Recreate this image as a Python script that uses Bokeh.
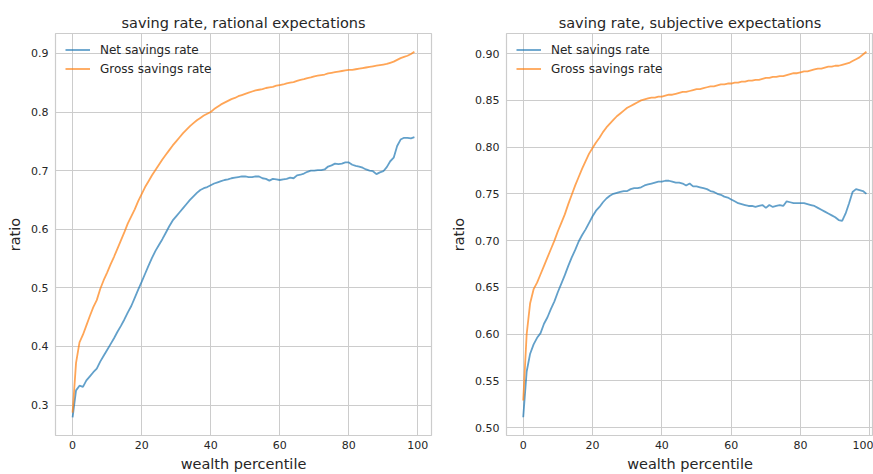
from bokeh.plotting import figure
from bokeh.layouts import row
from bokeh.models import FixedTicker, NumeralTickFormatter, Range1d, Legend, LegendItem
from bokeh.embed import file_html
from bokeh.resources import INLINE

percentile = list(range(100))

net_rational = [
    0.279, 0.325, 0.333, 0.331, 0.342, 0.349, 0.356, 0.362, 0.374, 0.384,
    0.394, 0.404, 0.414, 0.425, 0.435, 0.446, 0.458, 0.469, 0.483, 0.497,
    0.510, 0.524, 0.538, 0.551, 0.563, 0.573, 0.583, 0.594, 0.605, 0.615,
    0.622, 0.629, 0.636, 0.643, 0.650, 0.656, 0.662, 0.667, 0.670, 0.672,
    0.675, 0.678, 0.680, 0.682, 0.684, 0.685, 0.687, 0.688, 0.689, 0.690,
    0.690, 0.689, 0.689, 0.690, 0.690, 0.687, 0.686, 0.683, 0.686, 0.685,
    0.684, 0.685, 0.686, 0.688, 0.687, 0.692, 0.693, 0.695, 0.698, 0.700,
    0.700, 0.701, 0.701, 0.702, 0.707, 0.709, 0.712, 0.711, 0.712, 0.714,
    0.714, 0.710, 0.708, 0.707, 0.705, 0.702, 0.700, 0.699, 0.694, 0.697,
    0.699, 0.706, 0.716, 0.722, 0.742, 0.753, 0.756, 0.756, 0.755, 0.757,
]
gross_rational = [
    0.287, 0.372, 0.407, 0.420, 0.436, 0.452, 0.467, 0.479, 0.498, 0.513,
    0.526, 0.540, 0.553, 0.567, 0.581, 0.595, 0.610, 0.622, 0.634, 0.648,
    0.660, 0.672, 0.682, 0.692, 0.701, 0.710, 0.719, 0.727, 0.735, 0.743,
    0.750, 0.757, 0.764, 0.770, 0.776, 0.781, 0.786, 0.790, 0.794, 0.797,
    0.800, 0.805, 0.809, 0.813, 0.816, 0.819, 0.822, 0.824, 0.827, 0.829,
    0.831, 0.833, 0.835, 0.837, 0.838, 0.839, 0.841, 0.842, 0.843, 0.845,
    0.846, 0.847, 0.849, 0.850, 0.851, 0.853, 0.855, 0.856, 0.858, 0.859,
    0.861, 0.862, 0.863, 0.864, 0.866, 0.867, 0.868, 0.869, 0.870, 0.871,
    0.872, 0.872, 0.873, 0.874, 0.875, 0.876, 0.877, 0.878, 0.879, 0.880,
    0.881, 0.882, 0.884, 0.886, 0.889, 0.892, 0.894, 0.896, 0.899, 0.903,
]
net_subjective = [
    0.511, 0.560, 0.579, 0.589, 0.596, 0.601, 0.611, 0.618, 0.627, 0.635,
    0.645, 0.654, 0.663, 0.673, 0.682, 0.690, 0.699, 0.706, 0.712, 0.719,
    0.726, 0.732, 0.736, 0.741, 0.745, 0.748, 0.750, 0.751, 0.752, 0.753,
    0.753, 0.755, 0.756, 0.756, 0.757, 0.759, 0.760, 0.761, 0.762, 0.763,
    0.763, 0.764, 0.764, 0.763, 0.762, 0.762, 0.761, 0.759, 0.761, 0.758,
    0.758, 0.757, 0.756, 0.755, 0.753, 0.752, 0.750, 0.749, 0.747, 0.746,
    0.744, 0.742, 0.740, 0.739, 0.738, 0.737, 0.737, 0.736, 0.737, 0.738,
    0.735, 0.738, 0.736, 0.737, 0.738, 0.737, 0.742, 0.741, 0.740, 0.740,
    0.740, 0.740, 0.739, 0.738, 0.737, 0.735, 0.733, 0.731, 0.729, 0.727,
    0.725, 0.722, 0.721, 0.729, 0.740, 0.752, 0.755, 0.754, 0.753, 0.750,
]
gross_subjective = [
    0.529, 0.600, 0.633, 0.648, 0.655, 0.664, 0.673, 0.682, 0.691, 0.700,
    0.710, 0.719, 0.728, 0.739, 0.749, 0.759, 0.768, 0.777, 0.785, 0.793,
    0.799, 0.805, 0.810, 0.816, 0.821, 0.825, 0.829, 0.833, 0.836, 0.839,
    0.842, 0.844, 0.846, 0.848, 0.850, 0.851, 0.852, 0.853, 0.853, 0.854,
    0.854, 0.855, 0.856, 0.856, 0.857, 0.858, 0.859, 0.859, 0.860, 0.861,
    0.862, 0.862, 0.863, 0.864, 0.865, 0.865, 0.866, 0.867, 0.867, 0.868,
    0.868, 0.869, 0.869, 0.870, 0.870, 0.871, 0.871, 0.872, 0.872, 0.873,
    0.874, 0.874, 0.875, 0.875, 0.876, 0.876, 0.877, 0.878, 0.879, 0.879,
    0.880, 0.881, 0.881, 0.882, 0.883, 0.884, 0.884, 0.885, 0.886, 0.886,
    0.887, 0.887, 0.888, 0.889, 0.890, 0.892, 0.894, 0.896, 0.899, 0.902,
]

x_ticks = [0, 20, 40, 60, 80, 100]
y_ticks_rational = [0.3, 0.4, 0.5, 0.6, 0.7, 0.8, 0.9]
y_ticks_subjective = [0.50, 0.55, 0.60, 0.65, 0.70, 0.75, 0.80, 0.85, 0.90]

TEXT = "#262626"
GRID = "#cccccc"
FONT = "DejaVu Sans"
BLUE = "#1f77b4"
ORANGE = "#ff7f0e"


def make_fig(title, width, border_left, border_right, xr, yr, yticks, yfmt, net, gross):
    p = figure(width=width, height=474, output_backend="svg", toolbar_location=None,
               x_range=Range1d(*xr), y_range=Range1d(*yr),
               min_border_left=border_left, min_border_right=border_right,
               min_border_top=33, min_border_bottom=37)
    p.background_fill_color = "white"
    p.border_fill_color = "white"
    p.outline_line_color = GRID
    p.outline_line_width = 1.2

    p.title.text = title
    p.title.text_font = FONT
    p.title.text_font_style = "normal"
    p.title.text_font_size = "14.5px"
    p.title.text_color = TEXT
    p.title.align = "center"
    p.title.standoff = 5

    for ax in (p.xaxis, p.yaxis):
        ax.axis_line_color = None
        ax.major_tick_line_color = None
        ax.minor_tick_line_color = None
        ax.major_tick_out = 0
        ax.major_tick_in = 0
        ax.minor_tick_out = 0
        ax.minor_tick_in = 0
        ax.major_label_text_font = FONT
        ax.major_label_text_font_size = "11px"
        ax.major_label_text_color = TEXT
        ax.axis_label_text_font = FONT
        ax.axis_label_text_font_size = "14.5px"
        ax.axis_label_text_font_style = "normal"
        ax.axis_label_text_color = TEXT

    p.xaxis.ticker = FixedTicker(ticks=x_ticks)
    p.xaxis.formatter = NumeralTickFormatter(format="0")
    p.yaxis.ticker = FixedTicker(ticks=yticks)
    p.yaxis.formatter = NumeralTickFormatter(format=yfmt)
    p.xaxis.axis_label = "wealth percentile"
    p.yaxis.axis_label = "ratio"
    p.xaxis.major_label_standoff = 5
    p.yaxis.major_label_standoff = 7
    p.xaxis.axis_label_standoff = 4
    p.yaxis.axis_label_standoff = 5

    p.xgrid.grid_line_color = GRID
    p.ygrid.grid_line_color = GRID
    p.xgrid.grid_line_width = 1
    p.ygrid.grid_line_width = 1

    r1 = p.line(percentile, net, line_color=BLUE, line_alpha=0.7, line_width=1.8)
    r2 = p.line(percentile, gross, line_color=ORANGE, line_alpha=0.7, line_width=1.8)

    legend = Legend(items=[LegendItem(label="Net savings rate", renderers=[r1]),
                           LegendItem(label="Gross savings rate", renderers=[r2])],
                    location=(10, 357))
    legend.background_fill_alpha = 0
    legend.border_line_color = None
    legend.label_text_font = FONT
    legend.label_text_font_size = "12px"
    legend.label_text_color = TEXT
    legend.glyph_width = 25
    legend.glyph_height = 19
    legend.label_height = 19
    legend.label_standoff = 10
    legend.spacing = 0
    legend.padding = 5
    legend.margin = 0
    p.add_layout(legend, "center")
    return p


p1 = make_fig("saving rate, rational expectations", 440, 55, 9,
              (-4.95, 103.95), (0.248, 0.934), y_ticks_rational, "0.0",
              net_rational, gross_rational)
p2 = make_fig("saving rate, subjective expectations", 433, 66, 0,
              (-4.82, 101.04), (0.4915, 0.9215), y_ticks_subjective, "0.00",
              net_subjective, gross_subjective)

layout = row(p1, p2)
open("out.html", "w").write(file_html(layout, INLINE))
